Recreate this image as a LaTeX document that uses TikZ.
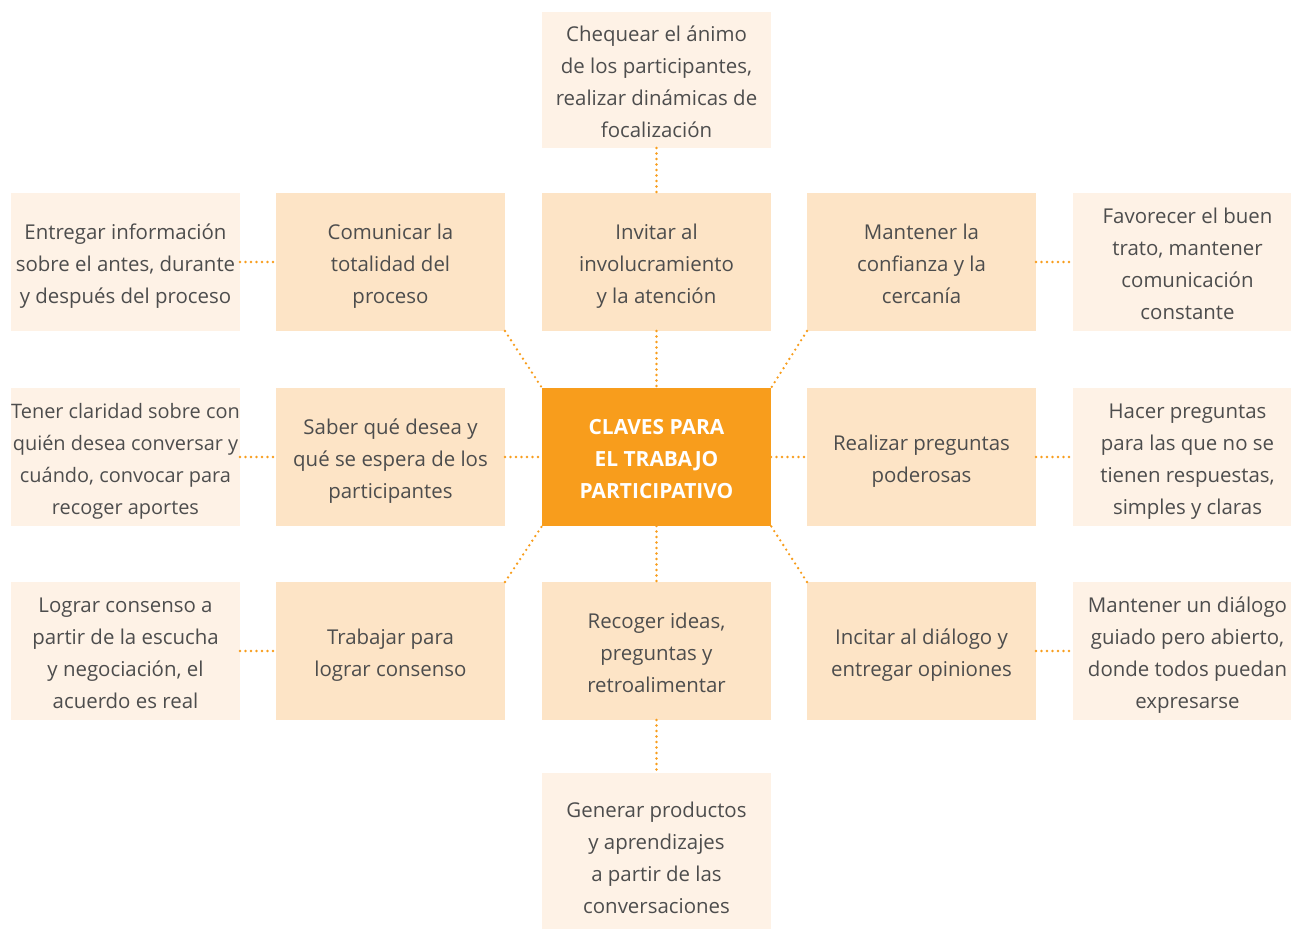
\documentclass[tikz,border=0pt]{standalone}
\usepackage{fontspec}
\setmainfont{Open Sans}
\definecolor{corange}{HTML}{F89D1C}
\definecolor{cinner}{HTML}{FDE4C6}
\definecolor{couter}{HTML}{FEF2E6}
\definecolor{ctext}{HTML}{4D4D4D}
\newcommand{\T}{\rule{0pt}{24.5bp}}
\newcommand{\B}{\rule[-5.5bp]{0pt}{5.5bp}}
\tikzset{
  boxbase/.style={rectangle, inner sep=0pt, outer sep=0pt, minimum width=229bp, minimum height=138bp, align=center, font=\fontsize{20.5}{32}\selectfont, text=ctext},
  inbox/.style={boxbase, fill=cinner},
  outbox/.style={boxbase, fill=couter},
  centerbox/.style={boxbase, fill=corange, text=white, font=\fontsize{21}{32}\selectfont\bfseries},
  conn/.style={draw=corange, line width=2.6bp, line cap=round, dash pattern=on 0bp off 5.5bp}
}
\begin{document}
\begin{tikzpicture}[x=1bp, y=-1bp]
\clip (0,0) rectangle (1291,929);
\fill[white] (0,0) rectangle (1291,929);
% center
\node[centerbox] (c) at (656.5,457) {\T CLAVES PARA\\EL TRABAJO\\PARTICIPATIVO\B};
% inner ring
\node[inbox] (i1) at (390.5,262) {\T Comunicar la\\totalidad del\\proceso\B};
\node[inbox] (i2) at (656.5,262) {\T Invitar al\\involucramiento\\y la atención\B};
\node[inbox] (i3) at (921.5,262) {\T Mantener la\\confianza y la\\cercanía\B};
\node[inbox] (i4) at (390.5,457) {\T Saber qué desea y\\qué se espera de los\\participantes\B};
\node[inbox] (i6) at (921.5,457) {\T Realizar preguntas\\poderosas\B};
\node[inbox] (i7) at (390.5,651) {\T Trabajar para\\lograr consenso\B};
\node[inbox] (i8) at (656.5,651) {\T Recoger ideas,\\preguntas y\\retroalimentar\B};
\node[inbox] (i9) at (921.5,651) {\T Incitar al diálogo y\\entregar opiniones\B};
% outer
\node[outbox, minimum height=136bp] (otop) at (656.5,80) {\T Chequear el ánimo\\de los participantes,\\realizar dinámicas de\\focalización\B};
\node[outbox, minimum height=166bp] (obot) at (656.5,856) {\T Generar productos\\y aprendizajes\\a partir de las\\conversaciones\B};
\node[outbox] (ol1) at (125.5,262) {\T Entregar información\\sobre el antes, durante\\y después del proceso\B};
\node[outbox, font=\fontsize{20}{32}\selectfont] (ol2) at (125.5,457) {\T Tener claridad sobre con\\quién desea conversar y\\cuándo, convocar para\\recoger aportes\B};
\node[outbox] (ol3) at (125.5,651) {\T Lograr consenso a\\partir de la escucha\\y negociación, el\\acuerdo es real\B};
\node[outbox] (or1) at (1187.5,262) {\T Favorecer el buen\\trato, mantener\\comunicación\\constante\B};
\node[outbox] (or2) at (1187.5,457) {\T Hacer preguntas\\para las que no se\\tienen respuestas,\\simples y claras\B};
\node[outbox] (or3) at (1187.5,651) {\T Mantener un diálogo\\guiado pero abierto,\\donde todos puedan\\expresarse\B};
% connectors
\draw[conn] (otop.south) -- (i2.north);
\draw[conn] (i2.south) -- (c.north);
\draw[conn] (c.south) -- (i8.north);
\draw[conn] (i8.south) -- (obot.north);
\draw[conn] (i4.east) -- (c.west);
\draw[conn] (c.east) -- (i6.west);
\draw[conn] (i1.south east) -- (c.north west);
\draw[conn] (i3.south west) -- (c.north east);
\draw[conn] (i7.north east) -- (c.south west);
\draw[conn] (i9.north west) -- (c.south east);
\draw[conn] (ol1.east) -- (i1.west);
\draw[conn] (ol2.east) -- (i4.west);
\draw[conn] (ol3.east) -- (i7.west);
\draw[conn] (i3.east) -- (or1.west);
\draw[conn] (i6.east) -- (or2.west);
\draw[conn] (i9.east) -- (or3.west);
\end{tikzpicture}
\end{document}
